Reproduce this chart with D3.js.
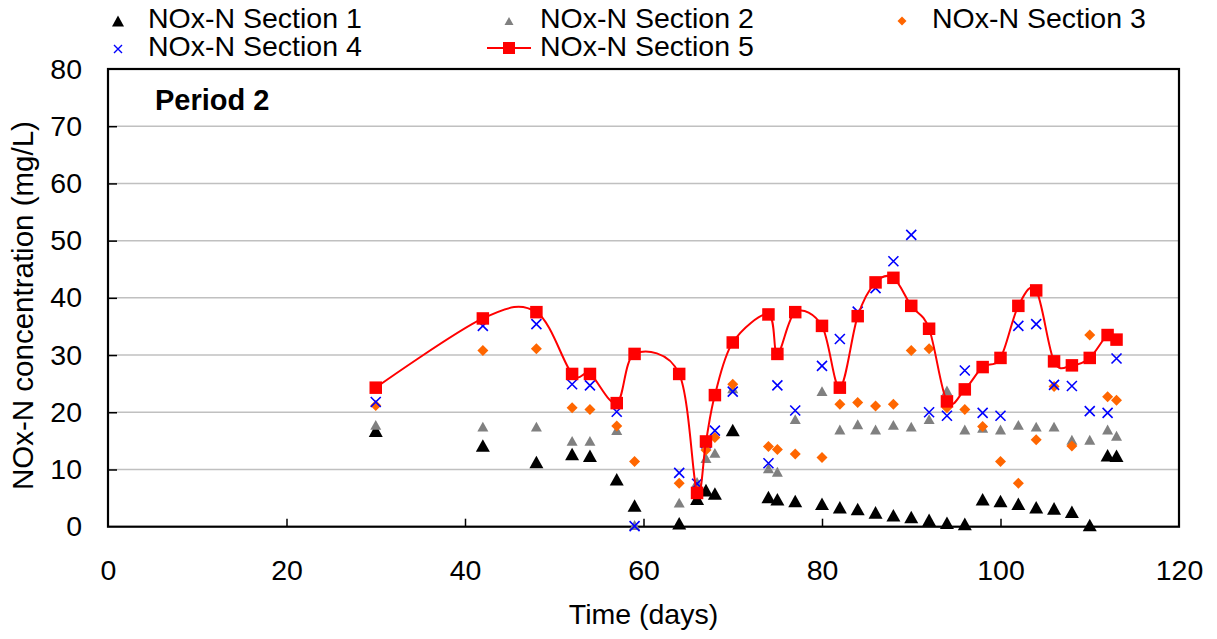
<!DOCTYPE html>
<html>
<head>
<meta charset="utf-8">
<script src="https://cdn.jsdelivr.net/npm/d3@7"></script>
<style>
  html, body { margin: 0; padding: 0; background: #fff; }
  text { font-family: "Liberation Sans", Arial, sans-serif; fill: #000; }
</style>
</head>
<body>
<svg id="chart" width="1217" height="639"></svg>
<script>
const days = [30, 42, 48, 52, 54, 57, 59, 64, 66, 67, 68, 70, 74, 75, 77, 80, 82, 84, 86, 88, 90, 92, 94, 96, 98, 100, 102, 104, 106, 108, 110, 112, 113];
const section1 = [16.8, 14.2, 11.3, 12.7, 12.4, 8.3, 3.7, 0.6, 4.9, 6.4, 5.8, 16.9, 5.2, 4.8, 4.5, 4.0, 3.4, 3.1, 2.5, 2.0, 1.7, 1.2, 0.7, 0.5, 4.8, 4.5, 4.0, 3.4, 3.2, 2.6, 0.3, 12.5, 12.4];
const section2 = [17.8, 17.5, 17.5, 15.0, 15.0, 16.9, 0.3, 4.2, 7.8, 12.0, 12.9, 24.2, 10.2, 9.6, 18.8, 23.7, 17.0, 17.9, 17.0, 17.8, 17.5, 18.8, 23.8, 17.0, 17.3, 17.0, 17.8, 17.5, 17.5, 15.2, 15.2, 17.0, 15.9];
const section3 = [21.2, 30.8, 31.1, 20.8, 20.5, 17.6, 11.4, 7.6, 6.2, 13.4, 15.6, 24.9, 14.0, 13.5, 12.7, 12.1, 21.4, 21.7, 21.1, 21.4, 30.8, 31.1, 20.8, 20.5, 17.5, 11.4, 7.6, 15.2, 24.5, 14.1, 33.5, 22.7, 22.1];
const section4 = [21.8, 35.1, 35.4, 24.9, 24.7, 20.1, 0.1, 9.4, 7.5, 14.6, 16.8, 23.6, 11.1, 24.7, 20.3, 28.1, 32.8, 37.6, 41.7, 46.4, 51.0, 20.0, 19.4, 27.3, 19.9, 19.4, 35.1, 35.4, 24.8, 24.6, 20.2, 19.9, 29.4];
const section5 = [24.3, 36.4, 37.5, 26.7, 26.7, 21.6, 30.2, 26.7, 5.9, 14.9, 23.0, 32.2, 37.1, 30.2, 37.5, 35.1, 24.3, 36.8, 42.7, 43.5, 38.6, 34.6, 21.9, 24.0, 27.9, 29.5, 38.6, 41.3, 28.9, 28.2, 29.5, 33.5, 32.7];
const seriesNames = ["NOx-N Section 1", "NOx-N Section 2", "NOx-N Section 3", "NOx-N Section 4", "NOx-N Section 5"];
const xTicks = [0, 20, 40, 60, 80, 100, 120];
const yTicks = [0, 10, 20, 30, 40, 50, 60, 70, 80];
const xLabel = "Time (days)";
const yLabel = "NOx-N concentration (mg/L)";
const panelLabel = "Period 2";

const svg = d3.select("#chart");
const L = 108, R = 1179, T = 69, B = 526.7;
const x = d3.scaleLinear().domain([0, 120]).range([L, R]);
const y = d3.scaleLinear().domain([0, 80]).range([B, T]);
const FS = 28.5;

// marker path builders (centered on bbox)
function triPath(s) { const h = s * 0.9; return `M0,${-h/2}L${s/2},${h/2}L${-s/2},${h/2}Z`; }
function diaPath(s) { return `M0,${-s/2}L${s/2},0L0,${s/2}L${-s/2},0Z`; }
function xPath(s) { return `M${-s/2},${-s/2}L${s/2},${s/2}M${s/2},${-s/2}L${-s/2},${s/2}`; }
function sqPath(s) { return `M${-s/2},${-s/2}h${s}v${s}h${-s}Z`; }

const styles = [
  { d: triPath(14), fill: "#000000", stroke: "none", sw: 0 },
  { d: triPath(11), fill: "#808080", stroke: "none", sw: 0 },
  { d: diaPath(11), fill: "#ff6600", stroke: "none", sw: 0 },
  { d: xPath(10), fill: "none", stroke: "#0000ff", sw: 1.6 },
  { d: sqPath(12.5), fill: "#ff0000", stroke: "none", sw: 0 }
];
const legendStyles = [
  { d: triPath(12), fill: "#000000", stroke: "none", sw: 0 },
  { d: triPath(9), fill: "#808080", stroke: "none", sw: 0 },
  { d: diaPath(9), fill: "#ff6600", stroke: "none", sw: 0 },
  { d: xPath(8), fill: "none", stroke: "#0000ff", sw: 1.4 },
  { d: sqPath(12), fill: "#ff0000", stroke: "none", sw: 0 }
];

// gridlines
svg.append("g").selectAll("line").data(yTicks.filter(v => v > 0 && v < 80)).join("line")
  .attr("x1", L).attr("x2", R).attr("y1", d => y(d)).attr("y2", d => y(d))
  .attr("stroke", "#c0c0c0").attr("stroke-width", 1.5);

// axes
const xAxis = svg.append("g").attr("transform", `translate(0,${B})`)
  .call(d3.axisBottom(x).tickValues(xTicks).tickSize(-8).tickPadding(33).tickFormat(d3.format("d")));
const yAxis = svg.append("g").attr("transform", `translate(${L},0)`)
  .call(d3.axisLeft(y).tickValues(yTicks).tickSize(-9).tickPadding(26).tickFormat(d3.format("d")));
[xAxis, yAxis].forEach(g => {
  g.select(".domain").remove();
  g.selectAll(".tick line").attr("stroke", "#000").attr("stroke-width", 1.5);
  g.selectAll(".tick text").attr("font-size", FS).attr("font-family", "Liberation Sans, Arial, sans-serif").attr("fill", "#000");
});
xAxis.selectAll(".tick").filter(d => d === 0 || d === 120).select("line").remove();
yAxis.selectAll(".tick").filter(d => d === 0 || d === 80).select("line").remove();

// frame
svg.append("rect").attr("x", L).attr("y", T).attr("width", R - L).attr("height", B - T)
  .attr("fill", "none").attr("stroke", "#000").attr("stroke-width", 2.2);

// series
const allSeries = [section1, section2, section3, section4, section5];
const pts = s => days.map((d, i) => ({ d, v: s[i] }));

const line = d3.line().x(p => x(p.d)).y(p => y(p.v)).curve(d3.curveCardinal.tension(0));

allSeries.forEach((s, k) => {
  const g = svg.append("g");
  if (k === 4) {
    g.append("path").datum(pts(s)).attr("d", line)
      .attr("fill", "none").attr("stroke", "#ff0000").attr("stroke-width", 2);
  }
  g.selectAll("path.m").data(pts(s)).join("path").attr("class", "m")
    .attr("transform", p => `translate(${x(p.d)},${y(p.v)})`)
    .attr("d", styles[k].d).attr("fill", styles[k].fill)
    .attr("stroke", styles[k].stroke).attr("stroke-width", styles[k].sw);
});

// panel label
svg.append("text").attr("x", 155).attr("y", 110).attr("font-size", 29).attr("font-weight", "bold").text(panelLabel);

// axis titles
svg.append("text").attr("x", (L + R) / 2).attr("y", 624).attr("text-anchor", "middle").attr("font-size", FS).text(xLabel);
svg.append("text").attr("transform", "translate(32.5,490) rotate(-90)").attr("text-anchor", "start").attr("font-size", 29.5).text(yLabel);

// legend
const legendPos = [
  { mx: 118, my: 21, tx: 148, ty: 28 },
  { mx: 509, my: 21, tx: 540, ty: 28 },
  { mx: 902, my: 21, tx: 932, ty: 28 },
  { mx: 118, my: 49, tx: 148, ty: 56 },
  { mx: 509, my: 48, tx: 540, ty: 56 }
];
const lg = svg.append("g");
seriesNames.forEach((name, k) => {
  const p = legendPos[k];
  if (k === 4) {
    lg.append("line").attr("x1", p.mx - 22).attr("x2", p.mx + 22).attr("y1", p.my).attr("y2", p.my)
      .attr("stroke", "#ff0000").attr("stroke-width", 2);
  }
  lg.append("path").attr("transform", `translate(${p.mx},${p.my})`).attr("d", legendStyles[k].d)
    .attr("fill", legendStyles[k].fill).attr("stroke", legendStyles[k].stroke).attr("stroke-width", legendStyles[k].sw);
  lg.append("text").attr("x", p.tx).attr("y", p.ty).attr("font-size", FS).text(name);
});
</script>
</body>
</html>
